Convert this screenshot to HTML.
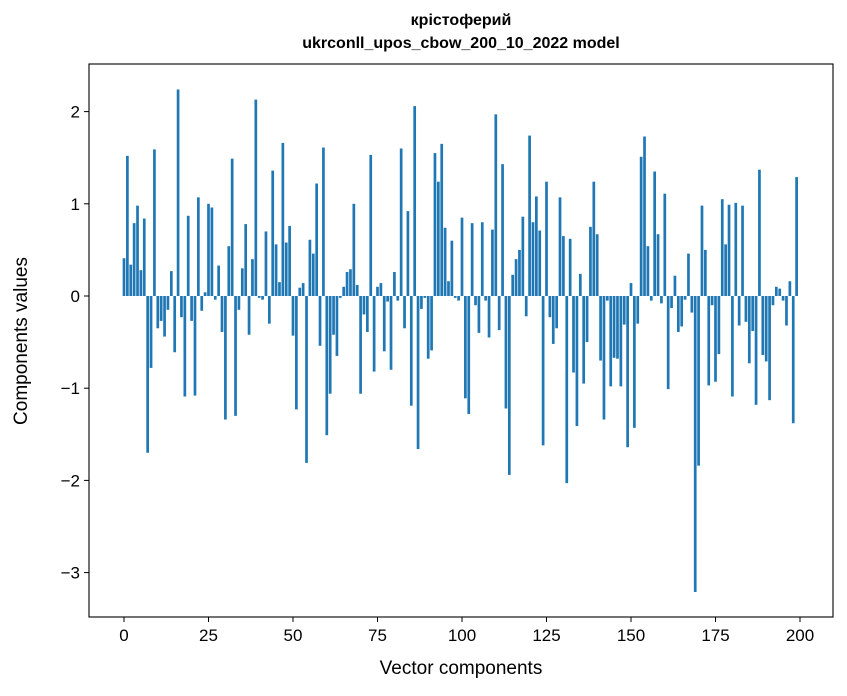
<!DOCTYPE html>
<html><head><meta charset="utf-8"><style>
body{margin:0;background:#fff}
svg{display:block;font-family:"Liberation Sans","DejaVu Sans",sans-serif}
</style></head><body>
<svg id="c" width="847" height="696">
<text x="461" y="25" text-anchor="middle" font-size="16" font-weight="bold">кріcтоферий</text>
<text x="461" y="48" text-anchor="middle" font-size="16" font-weight="bold">ukrconll_upos_cbow_200_10_2022 model</text>
<g id="bars"></g>
<g id="axes"></g>
<rect x="89" y="64" width="744" height="553" fill="none" stroke="#000" stroke-width="1.1"/>
<text x="461" y="674" text-anchor="middle" font-size="19">Vector components</text>
<text transform="translate(27,341) rotate(-90)" text-anchor="middle" font-size="19">Components values</text>
</svg>
<script>
const values=[0.41,1.52,0.34,0.79,0.98,0.28,0.84,-1.7,-0.78,1.59,-0.35,-0.27,-0.44,-0.15,0.27,-0.61,2.24,-0.23,-1.09,0.87,-0.27,-1.08,1.07,-0.16,0.04,
1.0,0.96,-0.04,0.33,-0.39,-1.34,0.54,1.49,-1.3,-0.15,0.3,0.78,-0.42,0.4,2.13,-0.02,-0.04,0.7,-0.3,1.36,0.56,0.15,1.66,0.58,0.76,
-0.43,-1.23,0.09,0.14,-1.81,0.61,0.46,1.22,-0.54,1.61,-1.51,-1.06,-0.42,-0.65,-0.02,0.1,0.26,0.29,1.0,0.12,-1.06,-0.2,-0.39,1.53,-0.82,
0.1,0.14,-0.6,-0.06,-0.8,0.26,-0.05,1.6,-0.35,0.92,-1.19,2.06,-1.66,-0.14,-0.02,-0.68,-0.59,1.55,1.24,1.65,0.74,0.16,0.6,-0.02,-0.05,
0.85,-1.11,-1.28,0.79,-0.1,-0.4,0.8,-0.05,-0.45,0.72,1.97,-0.37,1.43,-1.22,-1.94,0.23,0.4,0.5,0.86,-0.22,1.74,0.8,1.08,0.71,-1.62,
1.24,-0.23,-0.52,-0.35,1.07,0.65,-2.03,0.62,-0.83,-1.41,0.24,-0.95,-0.5,0.75,1.24,0.67,-0.7,-1.34,-0.05,-0.98,-0.67,-0.68,-0.98,-0.31,-1.64,
0.14,-1.43,-0.3,1.51,1.73,0.54,-0.05,1.35,0.67,-0.08,1.11,-1.01,-0.13,0.22,-0.39,-0.33,-0.04,0.46,-0.18,-3.21,-1.84,0.98,0.5,-0.97,-0.1,
-0.93,-0.63,1.05,0.56,0.99,-1.09,1.01,-0.32,0.98,-0.28,-0.73,-0.38,-1.18,1.37,-0.64,-0.71,-1.13,-0.1,0.1,0.08,-0.05,-0.32,0.16,-1.38,1.29];
const xTicks=[0,25,50,75,100,125,150,175,200];
const yTicks=[2,1,0,-1,-2,-3];
const yTickLabels=["2","1","0","\u22121","\u22122","\u22123"];
const NS="http://www.w3.org/2000/svg";
const xs=v=>124+v*3.38;
const ys=v=>296-v*92.2;
const bars=document.getElementById('bars'),axes=document.getElementById('axes');
values.forEach((v,i)=>{
  const r=document.createElementNS(NS,'rect');
  
  
  r.setAttribute('x',xs(i-0.4));r.setAttribute('width',3.38*0.8);
  r.setAttribute('y',Math.min(ys(v),ys(0)));r.setAttribute('height',Math.abs(ys(v)-ys(0)));
  r.setAttribute('fill','#1f77b4');bars.appendChild(r);
});
xTicks.forEach(t=>{
  const l=document.createElementNS(NS,'line');
  
  
  l.setAttribute('x1',xs(t));l.setAttribute('x2',xs(t));l.setAttribute('y1',617);l.setAttribute('y2',622);l.setAttribute('stroke','#000');
  axes.appendChild(l);
  const tx=document.createElementNS(NS,'text');
  
  
  tx.setAttribute('x',xs(t));tx.setAttribute('y',641);tx.setAttribute('text-anchor','middle');tx.setAttribute('font-size','17');
  tx.textContent=t;axes.appendChild(tx);
});
yTicks.forEach((t,k)=>{
  const l=document.createElementNS(NS,'line');
  
  
  l.setAttribute('x1',84);l.setAttribute('x2',89);l.setAttribute('y1',ys(t));l.setAttribute('y2',ys(t));l.setAttribute('stroke','#000');
  axes.appendChild(l);
  const tx=document.createElementNS(NS,'text');
  
  
  tx.setAttribute('x',80);tx.setAttribute('y',ys(t)+6);tx.setAttribute('text-anchor','end');tx.setAttribute('font-size','17');
  tx.textContent=yTickLabels[k];axes.appendChild(tx);
});
</script>
</body></html>
